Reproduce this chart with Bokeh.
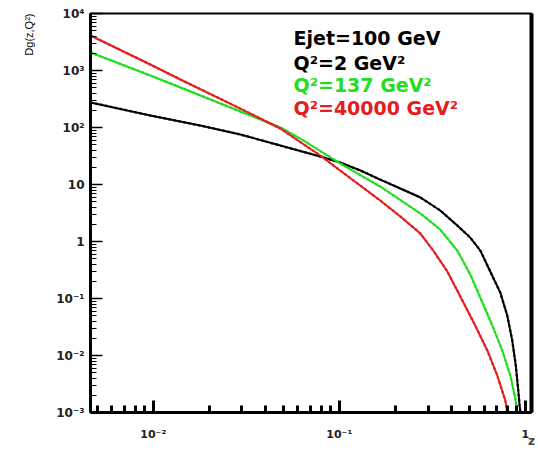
import math

from bokeh.embed import file_html
from bokeh.models import CustomJSTickFormatter, FixedTicker, Label, LogAxis, Title
from bokeh.plotting import figure
from bokeh.resources import INLINE

# Gluon fragmentation function D_g(z, Q^2) for a 100 GeV jet
z_q2_2 = [0.0046, 0.00964, 0.0179, 0.0294, 0.0482, 0.0790, 0.101, 0.130, 0.166,
          0.213, 0.273, 0.349, 0.431, 0.506, 0.573, 0.648, 0.734, 0.800, 0.851,
          0.889, 0.917, 0.932, 0.942]
d_q2_2 = [275, 163, 108, 75.4, 48.3, 31.0, 24.3, 17.6, 12.2,
          8.51, 5.92, 3.50, 1.91, 1.17, 0.695, 0.298, 0.127, 0.0503, 0.0183,
          0.00668, 0.00243, 0.00133, 0.001]

z_q2_137 = [0.0046, 0.00964, 0.0140, 0.0294, 0.0482, 0.0617, 0.101, 0.166, 0.273,
            0.349, 0.431, 0.506, 0.573, 0.665, 0.752, 0.831, 0.884, 0.906]
d_q2_137 = [2070, 817, 504, 191, 100, 64.1, 23.4, 9.22, 3.10,
            1.62, 0.695, 0.264, 0.104, 0.0336, 0.01225, 0.00446, 0.00176, 0.001]

z_q2_40000 = [0.0046, 0.00964, 0.0140, 0.0294, 0.0482, 0.0790, 0.101, 0.166, 0.213,
              0.273, 0.320, 0.381, 0.459, 0.538, 0.625, 0.707, 0.781, 0.800]
d_q2_40000 = [4110, 1274, 695, 215, 96, 32.3, 17.6, 5.24, 2.75,
              1.38, 0.695, 0.298, 0.0923, 0.0336, 0.01225, 0.00446, 0.00163, 0.001]

series_names = ["Q²=2 GeV²", "Q²=137 GeV²", "Q²=40000 GeV²"]
series_colors = ["#000000", "#22dd22", "#e41e1e"]

x_major = [0.01, 0.1, 1.0]
x_labels = ["10⁻²", "10⁻¹", "1"]
y_major = [1e-3, 1e-2, 1e-1, 1.0, 10.0, 1e2, 1e3, 1e4]
y_labels = ["10⁻³", "10⁻²", "10⁻¹", "1", "10", "10²", "10³", "10⁴"]

x_title = "z"
y_title = "Dg(z,Q²)"

x_lo, x_hi = 0.0046, 1.08
y_lo, y_hi = 1e-3, 1e4

# frame edges in canvas pixels
FL, FR, FT, FB = 90, 531, 13, 412
W, H = 538, 450

p = figure(width=W, height=H, x_axis_type="log", y_axis_type="log",
           x_range=(x_lo, x_hi), y_range=(y_lo, y_hi),
           output_backend="svg", toolbar_location=None,
           min_border_left=FL, min_border_right=W - FR,
           min_border_top=FT, min_border_bottom=H - FB)
p.grid.visible = False
p.outline_line_color = "black"
p.outline_line_width = 2
p.background_fill_color = "white"
p.border_fill_color = "white"

label_js = """
let best = 0, bd = Infinity;
for (let i = 0; i < vals.length; i++) {
  const d = Math.abs(Math.log10(tick) - Math.log10(vals[i]));
  if (d < bd) { bd = d; best = i; }
}
return labs[best];
"""


def minor_between(lo, hi):
    out = []
    for k in range(-4, 5):
        for m in range(2, 10):
            v = m * 10.0 ** k
            if lo <= v <= hi:
                out.append(v)
    return out


has_align = "axis_label_align" in p.xaxis[0].properties()

# bottom axis: ticks pointing into the frame
xa = p.xaxis[0]
xa.ticker = FixedTicker(ticks=x_major, minor_ticks=minor_between(x_lo, x_hi))
xa.formatter = CustomJSTickFormatter(args=dict(vals=x_major, labs=x_labels), code=label_js)
xa.axis_line_width = 3
xa.major_tick_in = 12
xa.major_tick_out = 0
xa.minor_tick_in = 7
xa.minor_tick_out = 0
xa.major_tick_line_width = 3
xa.minor_tick_line_width = 3
xa.major_label_standoff = 15
xa.major_label_text_font = "DejaVu Sans"
xa.major_label_text_font_style = "bold"
xa.major_label_text_font_size = "11px"
xa.major_label_text_color = "#222222"
xa.axis_label = x_title
xa.axis_label_text_font = "DejaVu Sans"
xa.axis_label_text_font_style = "bold"
xa.axis_label_text_font_size = "12px"
xa.axis_label_standoff = -10
if has_align:
    xa.axis_label_align = "end"

# left axis
ya = p.yaxis[0]
ya.ticker = FixedTicker(ticks=y_major, minor_ticks=minor_between(y_lo, y_hi))
ya.formatter = CustomJSTickFormatter(args=dict(vals=y_major, labs=y_labels), code=label_js)
ya.axis_line_width = 3
ya.major_tick_in = 12
ya.major_tick_out = 0
ya.minor_tick_in = 6
ya.minor_tick_out = 0
ya.major_tick_line_width = 1.5
ya.minor_tick_line_width = 1.2
ya.major_label_standoff = 6
ya.major_label_text_font = "DejaVu Sans"
ya.major_label_text_font_style = "bold"
ya.major_label_text_font_size = "12px"
ya.major_label_text_color = "#222222"

# vertical title at the top of the left side
p.add_layout(Title(text=y_title, align="right", vertical_align="bottom",
                   offset=0, standoff=38, text_font="Liberation Sans",
                   text_font_style="normal", text_font_size="11px",
                   text_color="black"), "left")

# heavy right-hand frame edge
right = LogAxis(ticker=FixedTicker(ticks=[]), axis_line_width=4,
                major_tick_in=0, major_tick_out=0, minor_tick_in=0, minor_tick_out=0,
                major_label_standoff=0, major_label_text_font_size="0px")
p.add_layout(right, "right")

# curves: solid line with a dashed trace of the same values on top
for zs, ds, col in zip([z_q2_2, z_q2_137, z_q2_40000],
                       [d_q2_2, d_q2_137, d_q2_40000], series_colors):
    p.line(zs, ds, line_color=col, line_width=2)
    p.line(zs, ds, line_color=col, line_width=2.5, line_dash="2 3", line_alpha=0.8)

LX0, LX1 = math.log10(x_lo), math.log10(x_hi)
LY0, LY1 = math.log10(y_lo), math.log10(y_hi)


def at(px, py):
    """Canvas pixel position -> data coordinates of this frame."""
    return (10 ** (LX0 + (px - FL) / (FR - FL) * (LX1 - LX0)),
            10 ** (LY0 + (FB - py) / (FB - FT) * (LY1 - LY0)))


def put(text, px, py, size, color="black"):
    x, y = at(px, py)
    p.add_layout(Label(x=x, y=y, text=text, text_font="DejaVu Sans",
                       text_font_style="bold", text_font_size=f"{size}px",
                       text_color=color, text_align="left",
                       text_baseline="alphabetic"))


# legend block
put("Ejet=100 GeV", 293, 37, 19)
for name, col, base in zip(series_names, series_colors, [62, 84, 107]):
    put(name, 293, base, 19, color=col)

open("out.html", "w").write(file_html(p, INLINE))
